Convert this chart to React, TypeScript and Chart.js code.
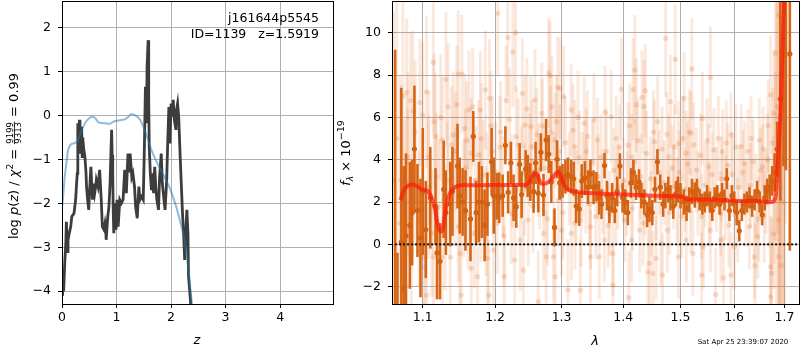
import React, { useEffect, useRef } from 'react';
import { Chart, registerables } from 'chart.js';
Chart.register(...registerables);

const FONT = '"DejaVu Sans"';

// ---------- Left panel: log p(z) ----------
const specName = 'j161644p5545';
const objId = 1139;
const zBest = '1.5919';
const chiNum = '9199';
const chiDen = '9313';
const chiRatio = '0.99';

const pzZ = [0.01,0.02,0.03,0.05,0.07,0.08,0.10,0.11,0.13,0.16,0.18,0.22,0.25,0.27,0.28,0.29,0.30,0.31,0.32,0.33,0.34,0.35,0.36,0.37,0.38,0.40,0.42,0.44,0.45,0.47,0.49,0.51,0.53,0.55,0.56,0.58,0.60,0.62,0.63,0.66,0.69,0.72,0.74,0.77,0.79,0.80,0.81,0.84,0.86,0.88,0.89,0.91,0.92,0.93,0.94,0.95,0.97,0.99,1.01,1.03,1.06,1.09,1.12,1.15,1.18,1.21,1.23,1.25,1.28,1.30,1.33,1.35,1.38,1.41,1.43,1.46,1.49,1.51,1.53,1.55,1.56,1.58,1.59,1.60,1.62,1.64,1.66,1.68,1.70,1.72,1.74,1.77,1.79,1.82,1.84,1.87,1.89,1.92,1.94,1.96,1.98,2.00,2.02,2.04,2.06,2.09,2.10,2.12,2.14,2.17,2.19,2.21,2.23,2.25,2.27,2.29,2.31,2.32,2.34,2.36,2.38];
const pzLog = [-4.1,-3.6,-4.0,-3.36,-2.9,-2.42,-3.1,-2.84,-2.7,-2.53,-2.3,-2.23,-1.92,-1.5,-1.32,-0.18,-0.6,-0.41,-0.1,-0.5,-0.87,-0.3,-0.26,-0.94,-0.5,-0.79,-0.94,-1.3,-1.62,-1.92,-2.15,-1.62,-1.17,-1.7,-1.92,-1.55,-1.77,-1.6,-1.47,-1.62,-1.24,-1.92,-2.53,-2.6,-2.45,-2.53,-2.83,-2.3,-2.08,-1.6,-1.17,-0.33,-0.9,-1.32,-2.2,-2.68,-2.0,-2.6,-1.92,-2.53,-1.92,-2.0,-1.92,-1.24,-1.77,-0.87,-1.3,-0.87,-1.4,-1.32,-1.62,-2.08,-2.34,-1.62,-1.92,-1.85,-1.92,-0.79,0.65,-0.18,1.1,1.71,0.35,-0.72,-1.32,-1.7,-1.32,-1.77,-1.17,-1.62,-1.92,-2.15,-1.4,-0.87,-1.55,-1.92,-2.15,-1.47,-0.56,0.19,-0.64,0.27,-0.03,0.35,-0.11,-0.33,0.12,0.27,-0.03,-1.02,-1.62,-2.23,-2.68,-3.29,-2.68,-2.15,-2.68,-3.66,-3.96,-4.28,-5.0];

const priorZ = [0.00,0.02,0.05,0.08,0.11,0.15,0.20,0.25,0.29,0.34,0.39,0.44,0.48,0.53,0.57,0.62,0.66,0.70,0.78,0.875,0.95,1.06,1.15,1.22,1.27,1.32,1.38,1.43,1.49,1.55,1.61,1.67,1.73,1.79,1.86,1.92,1.98,2.04,2.10,2.16,2.21,2.25,2.28,2.32,2.35,2.38,2.42,2.45];
const priorLog = [-2.1,-1.85,-1.4,-1.1,-0.8,-0.68,-0.64,-0.62,-0.56,-0.4,-0.26,-0.14,-0.09,-0.04,-0.03,-0.08,-0.15,-0.17,-0.18,-0.19,-0.14,-0.11,-0.09,-0.03,0.03,0.01,-0.03,-0.1,-0.25,-0.45,-0.68,-0.88,-1.04,-1.19,-1.35,-1.5,-1.66,-1.87,-2.1,-2.38,-2.62,-2.85,-3.14,-3.5,-3.9,-4.25,-4.7,-5.2];

const zTicks = [0, 1, 2, 3, 4];
const logTicks = [-4, -3, -2, -1, 0, 1, 2];

// ---------- Right panel: spectrum ----------
const lamTicks = [1.1, 1.2, 1.3, 1.4, 1.5, 1.6, 1.7];
const fluxTicks = [-2, 0, 2, 4, 6, 8, 10];
const timeStamp = 'Sat Apr 25 23:39:07 2020';

const darkLamA = [1.064,1.067,1.072,1.075,1.078,1.083,1.086,1.089,1.093,1.097,1.100,1.104,1.110,1.117,1.119,1.123,1.128,1.131,1.137,1.140,1.147,1.150,1.154,1.158,1.165,1.169,1.173,1.177,1.181,1.185,1.189,1.195,1.198];
const darkFluxA = [-4.0,-4.5,0.1,-2.1,0.4,0.9,1.5,4.5,1.6,0.3,2.5,0.7,2.2,1.8,-0.4,-0.8,2.6,1.5,1.9,2.5,3.7,2.3,2.0,1.6,1.2,5.1,1.5,2.0,2.0,0.9,1.9,3.9,2.3];
const darkErrA = [13.2,4.1,7.3,5.8,3.9,3.0,2.5,3.0,2.2,2.8,3.0,2.3,2.4,1.8,2.2,1.8,2.3,2.0,2.0,2.1,2.0,1.8,1.6,1.9,2.0,1.2,1.5,1.9,1.7,1.7,1.5,1.6,1.8];

const darkLamB = [1.2025,1.206,1.211,1.215,1.219,1.223,1.227,1.231,1.236,1.239,1.245,1.248,1.252,1.257,1.260,1.264,1.268,1.272,1.276,1.280,1.284,1.289,1.293,1.297,1.3015,1.306,1.310,1.315,1.319,1.323,1.328,1.332,1.337,1.342,1.346,1.351];
const darkFluxB = [2.27,2.2,2.3,4.68,2.46,3.85,2.2,1.78,3.78,2.35,3.55,3.23,2.95,2.49,3.85,2.41,4.35,2.33,4.93,4.27,2.95,0.8,4.02,2.91,3.0,3.2,3.3,3.2,3.1,1.81,1.67,2.99,3.13,2.7,3.32,2.7];
const darkErrB = [1.1,1.2,1.0,0.9,1.0,1.0,1.1,1.0,1.0,1.1,0.9,1.0,0.9,1.0,1.0,0.9,0.9,1.0,1.0,0.9,1.0,0.9,0.9,0.8,0.8,0.8,0.8,0.8,0.8,0.8,0.8,0.8,0.8,0.8,0.7,0.8];

const darkLamC = [1.3557,1.360,1.364,1.369,1.373,1.377,1.3817,1.386,1.390,1.3946,1.399,1.4035,1.408,1.413,1.4174,1.422,1.427,1.431,1.436,1.441,1.445,1.450,1.4547,1.459,1.464,1.469,1.473,1.478,1.482,1.487,1.492,1.4955,1.5001,1.506,1.511,1.516,1.521];
const darkFluxC = [2.72,2.2,1.9,3.72,2.3,1.7,2.2,1.6,2.5,3.7,2.2,2.0,1.5,2.9,3.4,2.7,2.95,2.3,2.0,1.4,1.65,1.5,2.6,3.9,2.7,1.9,2.3,2.6,2.2,1.8,2.4,2.6,2.3,2.0,1.7,2.1,2.5];
const darkErrC = [0.7,0.8,0.7,0.6,0.7,0.7,0.7,0.6,0.7,0.6,0.7,0.6,0.6,0.7,0.6,0.6,0.6,0.6,0.6,0.6,0.6,0.6,0.6,0.6,0.6,0.6,0.6,0.6,0.6,0.6,0.6,0.6,0.6,0.6,0.6,0.6,0.6];

const darkLamD = [1.526,1.530,1.535,1.540,1.5445,1.549,1.554,1.5585,1.563,1.568,1.5724,1.577,1.5817,1.586,1.591,1.5957,1.6004,1.605,1.610,1.615,1.620,1.625,1.630,1.635,1.640,1.645,1.650,1.655,1.660,1.665,1.670,1.675,1.680,1.685,1.6915,1.698,1.703,1.711];
const darkFluxD = [2.33,2.6,2.1,1.9,2.0,2.3,2.0,1.6,2.2,2.3,1.9,2.4,2.1,3.1,1.6,2.3,2.0,1.5,0.64,1.6,1.9,2.0,2.2,1.8,2.1,2.5,2.0,1.4,2.2,2.5,2.7,3.0,3.4,4.5,6.87,9.69,13,9.0];
const darkErrD = [0.6,0.5,0.5,0.5,0.5,0.5,0.5,0.5,0.5,0.5,0.5,0.5,0.5,0.5,0.5,0.5,0.5,0.6,0.5,0.5,0.5,0.5,0.5,0.5,0.5,0.5,0.5,0.5,0.6,0.6,0.6,0.7,0.9,1.3,4.8,6.0,9.5,9.3];

const faintLamA = [1.062,1.066,1.070,1.0715,1.074,1.076,1.079,1.0805,1.084,1.085,1.087,1.0895,1.096,1.100,1.101,1.103,1.105,1.105,1.1075,1.112,1.114,1.114,1.115,1.117,1.121,1.126,1.126,1.130,1.131,1.134,1.137,1.139,1.141,1.1435,1.146,1.148,1.148,1.150,1.152,1.153,1.157,1.158,1.1615,1.163,1.166,1.166,1.168,1.1705,1.175,1.176,1.179,1.1795,1.183,1.186,1.1885,1.189,1.191,1.192,1.194];
const faintFluxA = [3.0,5.0,1.0,3.04,7.0,2.1,7.18,4.14,6.8,-0.43,6.3,3.35,6.7,6.1,-0.6,-1.06,7.2,-2.4,2.7,0.52,8.6,-0.6,5.8,5.1,1.78,4.93,-0.6,0.83,7.8,6.5,-0.6,4.7,5.17,2.7,6.6,8.05,0.83,-0.43,-2.4,8.05,5.48,3.6,1.46,6.35,4.3,-1.14,6.5,0.52,-1.53,4.22,6.35,1.78,3.28,7.3,2.7,-0.66,-2.4,6.9,5.6];
const faintErrA = [8.0,7.0,7.0,4.5,6.0,3.8,3.5,4.0,3.2,3.6,3.8,3.4,3.0,3.5,3.2,3.0,3.6,3.2,3.4,3.0,3.4,3.0,3.2,3.0,3.2,3.0,2.8,3.0,3.2,3.0,2.8,2.8,3.0,2.8,2.8,3.0,2.6,2.6,2.8,2.8,2.6,2.8,2.6,2.8,2.6,2.6,2.8,2.6,2.6,2.6,2.8,2.6,2.6,2.8,2.6,2.6,2.6,2.8,2.6];

const faintLamB = [1.198,1.203,1.204,1.208,1.211,1.2134,1.216,1.2185,1.2236,1.226,1.2287,1.230,1.231,1.239,1.240,1.2415,1.244,1.249,1.253,1.2542,1.259,1.264,1.264,1.2695,1.272,1.2761,1.280,1.282,1.285,1.2874,1.290,1.290,1.294,1.295,1.298,1.300,1.303,1.310,1.315,1.3154,1.3205,1.323,1.326,1.3297,1.3307,1.336,1.3384,1.341,1.346,1.346];
const faintFluxB = [-0.27,0.99,10.92,5.32,2.72,-1.53,6.8,9.78,1.46,9.08,-0.74,10.0,5.09,3.35,7.14,-1.22,5.64,1.15,5.56,4.62,6.82,3.51,-2.71,6.19,0.52,-0.59,8.1,7.96,6.5,-0.59,4.93,-1.53,7.42,2.09,7.37,0.67,6.98,-2.16,6.35,0.52,4.62,2.25,6.0,-2.16,1.15,5.72,2.72,5.09,-0.59,0.83];
const faintErrB = [2.6,2.4,3.0,2.4,2.4,2.4,2.6,2.8,2.4,2.6,2.4,2.8,2.4,2.2,2.6,2.4,2.4,2.2,2.4,2.2,2.4,2.2,2.4,2.4,2.2,2.2,2.6,2.6,2.4,2.2,2.2,2.4,2.4,2.2,2.4,2.2,2.4,2.4,2.2,2.2,2.2,2.2,2.2,2.4,2.2,2.2,2.2,2.2,2.2,2.0];

const faintLamC = [1.3517,1.3545,1.3573,1.3602,1.363,1.3687,1.3698,1.3772,1.380,1.3829,1.3829,1.3885,1.3914,1.397,1.4027,1.4084,1.4095,1.414,1.414,1.4169,1.4197,1.4225,1.4282,1.4322,1.4356,1.4367,1.4378,1.4424,1.4452,1.448,1.4509,1.4537,1.4566,1.4594,1.4651,1.4679,1.4736,1.4764,1.4792,1.482,1.4877,1.4906,1.4963,1.4963,1.5019,1.5065,1.5104,1.5104,1.516,1.519,1.5206];
const faintFluxC = [5.88,1.31,4.93,-0.59,4.14,0.2,6.24,1.46,6.03,-0.43,-1.93,5.01,2.72,7.33,1.15,4.69,-2.52,4.14,0.2,7.33,8.24,6.59,0.67,6.95,6.51,2.41,7.26,-1.3,-0.9,1.46,-1.37,4.85,-0.66,5.8,0.05,-1.45,9.74,0.67,4.14,6.74,2.72,8.74,4.77,-0.59,1.31,6.9,4.3,0.2,5.32,5.25,8.29];
const faintErrC = [2.2,2.0,2.0,2.0,2.0,2.0,2.2,2.0,2.2,2.0,2.0,2.0,2.0,2.4,2.0,2.0,2.2,2.0,2.0,2.4,2.6,2.2,2.0,2.2,2.2,2.0,2.2,2.0,2.0,2.0,2.0,2.0,2.0,2.2,2.0,2.0,2.8,2.0,2.0,2.2,2.0,2.6,2.0,2.0,2.0,2.2,2.0,2.0,2.0,2.0,2.4];

const faintLamD = [1.5225,1.529,1.5388,1.5388,1.540,1.542,1.5518,1.555,1.555,1.5615,1.5648,1.5745,1.5745,1.578,1.5797,1.5875,1.594,1.594,1.6005,1.607,1.6135,1.620,1.6298,1.633,1.6395,1.6408,1.646,1.6493,1.6558,1.659,1.6655,1.672,1.672,1.672,1.6743,1.6785,1.6785,1.6818,1.6818,1.684,1.688,1.6883,1.6883,1.690,1.6915,1.695,1.696,1.700];
const faintFluxD = [-0.43,3.51,1.31,-1.45,5.95,-0.11,3.67,7.89,0.67,4.46,-2.37,1.46,0.2,4.38,-1.58,3.75,5.17,-1.45,-0.11,1.15,4.62,3.83,0.83,5.01,-0.59,-1.01,0.36,4.93,3.67,1.31,3.99,7.06,-1.06,-2.48,-1.37,6.19,2.09,9.03,4.14,3.0,10.84,1.15,-0.59,5.0,2.72,10.05,2.0,6.0];
const faintErrD = [2.0,2.0,2.0,2.0,2.2,2.0,2.0,2.4,2.0,2.0,2.2,2.0,2.0,2.0,2.0,2.0,2.0,2.0,2.0,2.0,2.0,2.0,2.0,2.0,2.0,2.0,2.0,2.0,2.0,2.2,2.2,2.8,2.4,2.6,2.6,3.0,3.0,4.0,4.0,9.0,6.0,5.0,6.0,9.0,8.0,8.0,10.0,10.0];

const faintLamE = [1.080,1.090,1.095,1.108,1.118,1.124,1.133,1.144,1.155,1.160,1.172,1.180,1.187,1.196,1.201,1.207,1.213,1.221,1.225,1.234,1.237,1.243,1.247,1.251,1.256,1.262,1.266,1.270,1.274,1.278,1.283,1.288,1.292,1.297,1.302,1.306,1.312,1.318,1.321,1.328,1.333,1.339,1.344,1.349];
const faintFluxE = [2.9,5.3,1.2,4.1,3.2,6.0,3.0,4.4,2.2,4.9,3.0,5.0,1.1,4.4,3.4,4.6,0.4,5.9,3.0,4.7,0.2,2.6,6.4,4.0,1.8,5.2,2.9,5.6,3.6,1.2,5.3,3.1,5.8,4.4,1.5,4.8,3.1,5.4,1.0,4.1,3.3,4.4,1.9,3.9];
const faintErrE = [3.5,3.4,3.2,3.2,3.0,3.0,2.8,2.8,2.8,2.8,2.6,2.6,2.6,2.6,2.4,2.4,2.4,2.4,2.2,2.2,2.4,2.2,2.4,2.2,2.2,2.2,2.2,2.2,2.2,2.2,2.2,2.2,2.2,2.2,2.2,2.2,2.2,2.2,2.2,2.2,2.0,2.0,2.0,2.0];

const faintLamF = [1.358,1.366,1.372,1.375,1.384,1.388,1.394,1.400,1.406,1.411,1.416,1.420,1.425,1.430,1.434,1.440,1.447,1.452,1.457,1.462,1.467,1.471,1.476,1.480,1.485,1.489,1.494,1.498,1.504,1.508,1.513,1.518,1.524,1.532,1.537,1.545,1.549,1.553,1.558,1.566,1.570,1.576,1.583,1.585,1.590,1.597,1.603,1.609,1.617,1.623,1.627,1.632,1.637,1.643,1.648,1.652,1.657,1.662,1.667,1.669,1.676,1.678,1.686,1.692,1.693,1.698,1.702];
const faintFluxF = [3.2,2.5,4.4,0.9,3.5,2.0,4.6,3.0,2.4,5.6,1.7,3.9,4.9,3.2,1.0,4.3,3.1,5.3,2.2,3.4,4.5,2.9,5.2,1.5,3.6,4.6,2.1,3.4,5.0,2.6,3.8,1.6,4.7,2.4,4.2,2.8,4.9,1.9,3.3,2.6,5.0,3.1,2.2,4.8,0.9,3.3,4.6,2.7,3.4,1.9,4.4,2.8,3.9,2.3,1.2,3.5,4.5,2.5,5.6,2.0,4.8,0.5,6.5,8.0,-1.0,4.0,9.0];
const faintErrF = [2.0,2.0,2.0,2.0,2.0,2.0,2.0,2.0,2.0,2.0,2.0,2.0,2.0,2.0,2.0,2.0,2.0,2.0,2.0,2.0,2.0,2.0,2.0,2.0,2.0,2.0,2.0,2.0,2.0,2.0,2.0,2.0,2.0,2.0,2.0,2.0,2.0,2.0,2.0,2.0,2.0,2.0,2.0,2.0,2.0,2.0,2.0,2.0,2.0,2.0,2.0,2.0,2.0,2.0,2.0,2.0,2.0,2.0,2.2,2.2,2.6,2.6,6.0,8.0,6.0,8.0,8.0];

const modelLam = [1.071,1.075,1.079,1.085,1.092,1.098,1.103,1.1075,1.112,1.1165,1.119,1.1215,1.124,1.1265,1.129,1.1315,1.1345,1.141,1.148,1.157,1.1705,1.193,1.244,1.249,1.254,1.258,1.262,1.265,1.268,1.272,1.280,1.287,1.292,1.296,1.299,1.304,1.310,1.3205,1.336,1.351,1.40,1.45,1.499,1.516,1.5485,1.581,1.6135,1.646,1.6655,1.675,1.680,1.683,1.686,1.690,1.6935,1.697,1.699,1.701];
const modelFlux = [2.09,2.55,2.72,2.83,2.77,2.6,2.57,2.49,2.17,1.62,1.1,0.75,0.6,0.7,1.2,1.8,2.25,2.64,2.76,2.8,2.79,2.8,2.8,2.9,3.15,3.33,3.35,3.1,2.9,2.85,2.96,3.2,3.38,3.43,3.2,2.8,2.6,2.49,2.44,2.41,2.35,2.3,2.25,2.12,2.12,2.09,2.05,2.05,2.0,2.0,2.1,2.41,3.67,5.25,7.14,9.97,11.55,14];

const zeroLam = [1.064, 1.727];
const zeroFlux = [0, 0];

// ---------- helpers ----------
const pts = (xs: number[], ys: number[]) => xs.map((x, i) => ({ x, y: ys[i] }));
const minus = (v: number) => (v < 0 ? '\u2212' + Math.abs(v) : String(v));

function boxPlugin(id: string, extra: (ctx: CanvasRenderingContext2D, chart: any) => void) {
  return {
    id,
    afterDraw(chart: any) {
      const { ctx, chartArea: a } = chart;
      ctx.save();
      ctx.strokeStyle = '#000';
      ctx.lineWidth = 1;
      const l = Math.round(a.left) + 0.5, t = Math.round(a.top) + 0.5;
      const r = Math.round(a.right) + 0.5, b = Math.round(a.bottom) + 0.5;
      ctx.strokeRect(l, t, r - l, b - t);
      ctx.restore();
      ctx.save();
      extra(ctx, chart);
      ctx.restore();
    },
  };
}

type Part = { t?: string; f?: string; dv?: number; frac?: [string, string] };

function drawRotated(ctx: CanvasRenderingContext2D, bx: number, cy: number, parts: Part[], fracFont: string) {
  ctx.translate(bx, cy);
  ctx.rotate(-Math.PI / 2);
  ctx.fillStyle = '#000';
  ctx.textAlign = 'left';
  ctx.textBaseline = 'alphabetic';
  const widths = parts.map((p) => {
    if (p.frac) {
      ctx.font = fracFont;
      return Math.max(ctx.measureText(p.frac[0]).width, ctx.measureText(p.frac[1]).width) + 2;
    }
    ctx.font = p.f!;
    return ctx.measureText(p.t!).width;
  });
  const total = widths.reduce((s, w) => s + w, 0);
  let u = -total / 2;
  parts.forEach((p, i) => {
    const w = widths[i];
    if (p.frac) {
      ctx.font = fracFont;
      ctx.textAlign = 'center';
      ctx.fillText(p.frac[0], u + w / 2, -5);
      ctx.fillText(p.frac[1], u + w / 2, 2.6);
      ctx.textAlign = 'left';
      ctx.fillRect(u + 0.5, -4.4, w - 1, 0.8);
    } else {
      ctx.font = p.f!;
      ctx.fillText(p.t!, u, p.dv || 0);
    }
    u += w;
  });
}

const errPlugin = {
  id: 'errbars',
  beforeDatasetDraw(chart: any, args: any) {
    const ds = chart.data.datasets[args.index];
    if (!ds.errs) return;
    const { ctx, chartArea: a, scales } = chart;
    const xs = scales.x, ys = scales.y;
    ctx.save();
    ctx.beginPath();
    ctx.rect(a.left, a.top, a.right - a.left, a.bottom - a.top);
    ctx.clip();
    ctx.strokeStyle = ds.errColor;
    ctx.lineWidth = ds.errWidth;
    ds.data.forEach((p: any, i: number) => {
      const e = ds.errs[i] ?? 2;
      const px = xs.getPixelForValue(p.x);
      ctx.beginPath();
      ctx.moveTo(px, ys.getPixelForValue(p.y - e));
      ctx.lineTo(px, ys.getPixelForValue(p.y + e));
      ctx.stroke();
    });
    ctx.restore();
  },
};

const tickFont = { family: FONT, size: 12.5 };
const gridOpts = { color: '#b0b0b0', lineWidth: 1, tickColor: '#000', tickLength: 4, tickWidth: 1 };

function axisX(extra: any, ticks: number[], fmt: (v: number) => string, height: number) {
  return {
    ...extra,
    afterBuildTicks: (s: any) => { s.ticks = ticks.map((v) => ({ value: v })); },
    afterFit: (s: any) => { s.height = height; s.paddingLeft = 0; s.paddingRight = 0; s.paddingTop = 0; s.paddingBottom = 0; },
    grid: gridOpts,
    border: { display: false },
    ticks: { color: '#000', font: tickFont, padding: 2, maxRotation: 0, minRotation: 0, autoSkip: false, callback: (v: any) => fmt(Number(v)) },
  };
}
function axisY(extra: any, ticks: number[], width: number) {
  return {
    ...extra,
    afterBuildTicks: (s: any) => { s.ticks = ticks.map((v) => ({ value: v })); },
    afterFit: (s: any) => { s.width = width; s.paddingLeft = 0; s.paddingRight = 0; s.paddingTop = 0; s.paddingBottom = 0; },
    grid: gridOpts,
    border: { display: false },
    ticks: { color: '#000', font: tickFont, padding: 7, autoSkip: false, callback: (v: any) => minus(Number(v)) },
  };
}

const leftDecor = boxPlugin('leftDecor', (ctx) => {
  ctx.fillStyle = '#000';
  ctx.font = `12.5px ${FONT}`;
  ctx.textAlign = 'right';
  ctx.textBaseline = 'alphabetic';
  ctx.fillText(specName, 319, 22);
  ctx.fillText(`ID=${objId}   z=${zBest}`, 319, 37.5);
  ctx.textAlign = 'center';
  ctx.font = `italic 13px ${FONT}`;
  ctx.fillText('z', 197, 344);
  const N = `13px ${FONT}`, I = `italic 13px ${FONT}`, S = `9px ${FONT}`;
  drawRotated(ctx, 18.3, 156, [
    { t: 'log ', f: N },
    { t: 'p', f: I },
    { t: '(', f: N },
    { t: 'z', f: I },
    { t: ') / ', f: N },
    { t: '\u03c7', f: I },
    { t: '2', f: S, dv: -5.5 },
    { t: ' = ', f: N },
    { frac: [chiNum, chiDen] },
    { t: ' = ' + chiRatio, f: N },
  ], `8.5px ${FONT}`);
});

// right canvas starts at page x = 334
const RX = 334;
const rightDecor = boxPlugin('rightDecor', (ctx) => {
  ctx.fillStyle = '#000';
  ctx.textAlign = 'center';
  ctx.textBaseline = 'alphabetic';
  ctx.font = `italic 13px ${FONT}`;
  ctx.fillText('\u03bb', 595 - RX, 345);
  ctx.font = `7px ${FONT}`;
  ctx.fillText(timeStamp, 743 - RX, 344);
  const N = `13px ${FONT}`, I = `italic 13px ${FONT}`;
  drawRotated(ctx, 350 - RX, 153, [
    { t: 'f', f: I },
    { t: '\u03bb', f: `italic 9px ${FONT}`, dv: 3 },
    { t: ' \u00d7 10', f: N },
    { t: '\u221219', f: `9.5px ${FONT}`, dv: -6 },
  ], `9px ${FONT}`);
});

const baseOpts = {
  animation: false as const,
  responsive: false,
  maintainAspectRatio: false,
  devicePixelRatio: 1,
  events: [] as any[],
  plugins: { legend: { display: false }, tooltip: { enabled: false }, title: { display: false } },
};

export default function App() {
  const lRef = useRef<HTMLCanvasElement>(null);
  const rRef = useRef<HTMLCanvasElement>(null);

  useEffect(() => {
    document.body.style.margin = '0';
    const left = new Chart(lRef.current!, {
      type: 'scatter',
      data: {
        datasets: [
          { data: pts(priorZ, priorLog), showLine: true, borderColor: 'rgba(31,119,180,0.5)', borderWidth: 2, pointRadius: 0, cubicInterpolationMode: 'monotone', clip: 0, order: 1 } as any,
          { data: pts(pzZ, pzLog), showLine: true, borderColor: '#3d3d3d', borderWidth: 2.8, pointRadius: 0, tension: 0, clip: 0, order: 2 } as any,
        ],
      },
      options: {
        ...baseOpts,
        layout: { padding: { left: 0, right: 1, top: 1, bottom: 0 }, autoPadding: false },
        scales: {
          x: axisX({ type: 'linear', min: 0, max: 4.97 }, zTicks, (v) => String(v), 46),
          y: axisY({ type: 'linear', min: -4.29, max: 2.6 }, logTicks, 62),
        },
      } as any,
      plugins: [leftDecor as any],
    });

    const faintL = [...faintLamA, ...faintLamB, ...faintLamC, ...faintLamD, ...faintLamE, ...faintLamF];
    const faintF = [...faintFluxA, ...faintFluxB, ...faintFluxC, ...faintFluxD, ...faintFluxE, ...faintFluxF];
    const faintE = [...faintErrA, ...faintErrB, ...faintErrC, ...faintErrD, ...faintErrE, ...faintErrF];

    const right = new Chart(rRef.current!, {
      type: 'scatter',
      data: {
        datasets: [
          { data: pts(zeroLam, zeroFlux), showLine: true, borderColor: '#111', borderWidth: 2, borderDash: [2, 2], pointRadius: 0, clip: 0, order: 0 } as any,
          { data: pts(modelLam, modelFlux), showLine: true, borderColor: 'rgba(255,25,10,0.7)', borderWidth: 4, pointRadius: 0, cubicInterpolationMode: 'monotone', clip: 0, order: 1 } as any,
          { data: pts([...darkLamA, ...darkLamB, ...darkLamC, ...darkLamD], [...darkFluxA, ...darkFluxB, ...darkFluxC, ...darkFluxD]), errs: [...darkErrA, ...darkErrB, ...darkErrC, ...darkErrD], errColor: 'rgb(214,102,22)', errWidth: 2.6, pointRadius: 2.6, pointBorderWidth: 0, backgroundColor: 'rgb(210,98,18)', clip: 0, order: 2 } as any,
          { data: pts(faintL, faintF), errs: faintE, errColor: 'rgba(228,120,50,0.16)', errWidth: 3, pointRadius: 2.6, pointBorderWidth: 0, backgroundColor: 'rgba(225,115,45,0.24)', clip: 0, order: 3 } as any,
        ],
      },
      options: {
        ...baseOpts,
        layout: { padding: { left: 0, right: 1, top: 1, bottom: 0 }, autoPadding: false },
        scales: {
          x: axisX({ type: 'logarithmic', min: 1.06, max: 1.73 }, lamTicks, (v) => v.toFixed(1), 46),
          y: axisY({ type: 'linear', min: -2.82, max: 11.5 }, fluxTicks, 392 - RX),
        },
      } as any,
      plugins: [errPlugin as any, rightDecor as any],
    });

    return () => { left.destroy(); right.destroy(); };
  }, []);

  return (
    <div style={{ position: 'fixed', left: 0, top: 0, width: 800, height: 350, background: '#fff' }}>
      <canvas ref={lRef} width={334} height={350} style={{ position: 'absolute', left: 0, top: 0, width: 334, height: 350 }} />
      <canvas ref={rRef} width={800 - RX} height={350} style={{ position: 'absolute', left: RX, top: 0, width: 800 - RX, height: 350 }} />
    </div>
  );
}
